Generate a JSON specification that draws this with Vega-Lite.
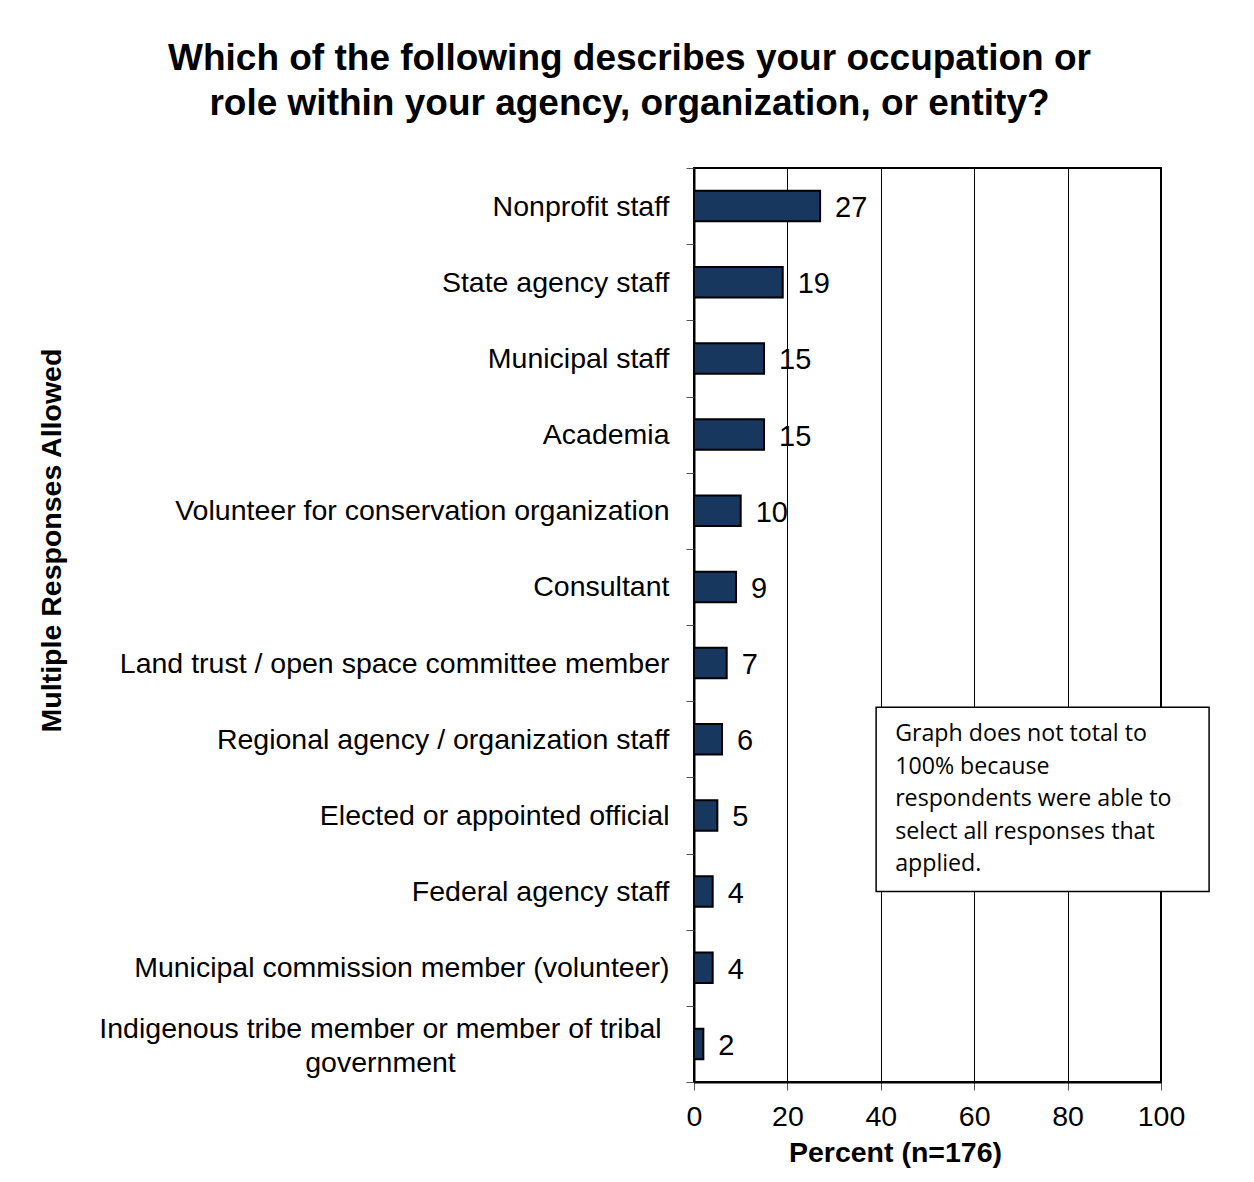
{
  "$schema": "https://vega.github.io/schema/vega-lite/v6.json",
  "autosize": {"type": "none"},
  "width": 467,
  "height": 914,
  "padding": {"left": 694, "top": 168, "right": 93, "bottom": 100},
  "background": "white",
  "config": {
    "font": "Arial, Liberation Sans, sans-serif",
    "view": {"stroke": "black", "strokeWidth": 2}
  },
  "title": {
    "text": ["Which of the following describes your occupation or", "role within your agency, organization, or entity?"],
    "font": "Arial, Liberation Sans, sans-serif",
    "fontSize": 37,
    "fontWeight": "bold",
    "lineHeight": 45,
    "color": "black",
    "anchor": "middle",
    "frame": "group",
    "dx": -298,
    "offset": 31
  },
  "datasets": {
    "roles": [
      {"role": "Nonprofit staff", "percent": 27},
      {"role": "State agency staff", "percent": 19},
      {"role": "Municipal staff", "percent": 15},
      {"role": "Academia", "percent": 15},
      {"role": "Volunteer for conservation organization", "percent": 10},
      {"role": "Consultant", "percent": 9},
      {"role": "Land trust / open space committee member", "percent": 7},
      {"role": "Regional agency / organization staff", "percent": 6},
      {"role": "Elected or appointed official", "percent": 5},
      {"role": "Federal agency staff", "percent": 4},
      {"role": "Municipal commission member (volunteer)", "percent": 4},
      {"role": "Indigenous tribe member or member of tribal government", "percent": 2}
    ],
    "note": [
      {"x1": 39, "x2": 110.3, "y1": 7.08, "y2": 9.5, "text": ["Graph does not total to", "100% because", "respondents were able to", "select all responses that", "applied."]}
    ]
  },
  "resolve": {"scale": {"y": "independent"}},
  "layer": [
    {
      "data": {"name": "roles"},
      "layer": [
        {
          "mark": {"type": "bar", "height": {"band": 0.4}, "fill": "#17375e", "stroke": "black", "strokeWidth": 2},
          "encoding": {
            "y": {
              "field": "role", "type": "nominal", "sort": null,
              "scale": {"paddingInner": 0, "paddingOuter": 0},
              "axis": {
                "title": "Multiple Responses Allowed",
                "titleFont": "Arial, Liberation Sans, sans-serif",
                "titleFontSize": 28.5,
                "titleFontWeight": "bold",
                "titleColor": "black",
                "titleAngle": 270,
                "titleX": -634,
                "titleY": 372,
                "titleAlign": "center",
                "titleBaseline": "alphabetic",
                "domain": true,
                "domainColor": "black",
                "domainWidth": 2,
                "ticks": true,
                "tickBand": "extent",
                "tickSize": 8,
                "tickColor": "#555555",
                "tickWidth": 1,
                "labelFont": "Arial, Liberation Sans, sans-serif",
                "labelFontSize": 28.5,
                "labelColor": "black",
                "labelLimit": 700,
                "labelLineHeight": 34,
                "labelExpr": "datum.value == 'Indigenous tribe member or member of tribal government' ? ['Indigenous tribe member or member of tribal', 'government'] : datum.value",
                "labelAlign": {"condition": {"test": "datum.value == 'Indigenous tribe member or member of tribal government'", "value": "center"}, "value": "right"},
                "labelPadding": {"condition": {"test": "datum.value == 'Indigenous tribe member or member of tribal government'", "value": 306}, "value": 17},
                "labelOffset": {"condition": {"test": "datum.value == 'Indigenous tribe member or member of tribal government'", "value": -15}, "value": 0}
              }
            },
            "x": {
              "field": "percent", "type": "quantitative",
              "scale": {"domain": [0, 100], "nice": false},
              "axis": {
                "values": [0, 20, 40, 60, 80, 100],
                "title": "Percent (n=176)",
                "titleFont": "Arial, Liberation Sans, sans-serif",
                "titleFontSize": 28.5,
                "titleFontWeight": "bold",
                "titleColor": "black",
                "titleX": 201,
                "titlePadding": 8,
                "grid": true,
                "gridColor": "black",
                "gridWidth": 1,
                "domain": true,
                "domainColor": "black",
                "domainWidth": 2,
                "tickSize": 8,
                "tickColor": "#555555",
                "labelFont": "Arial, Liberation Sans, sans-serif",
                "labelFontSize": 28.5,
                "labelColor": "black",
                "labelPadding": 12,
                "labelFlush": false
              }
            }
          }
        },
        {
          "mark": {"type": "text", "align": "left", "baseline": "middle", "dx": 15, "dy": 2, "font": "Arial, Liberation Sans, sans-serif", "fontSize": 29, "color": "black"},
          "encoding": {
            "y": {"field": "role", "type": "nominal", "sort": null},
            "x": {"field": "percent", "type": "quantitative"},
            "text": {"field": "percent", "type": "quantitative"}
          }
        }
      ]
    },
    {
      "data": {"name": "note"},
      "layer": [
        {
          "mark": {"type": "rect", "fill": "white", "stroke": "black", "strokeWidth": 1.5, "clip": false},
          "encoding": {
            "x": {"field": "x1", "type": "quantitative"},
            "x2": {"field": "x2"},
            "y": {"field": "y1", "type": "quantitative", "scale": {"domain": [0, 12], "reverse": true, "nice": false, "zero": false}, "axis": null},
            "y2": {"field": "y2"}
          }
        },
        {
          "mark": {"type": "text", "align": "left", "baseline": "top", "dx": 19, "dy": 16, "font": "Open Sans", "fontSize": 23.2, "lineHeight": 32.5, "color": "black"},
          "encoding": {
            "x": {"field": "x1", "type": "quantitative"},
            "y": {"field": "y1", "type": "quantitative", "scale": {"domain": [0, 12], "reverse": true, "nice": false, "zero": false}, "axis": null},
            "text": {"field": "text"}
          }
        }
      ]
    }
  ]
}
